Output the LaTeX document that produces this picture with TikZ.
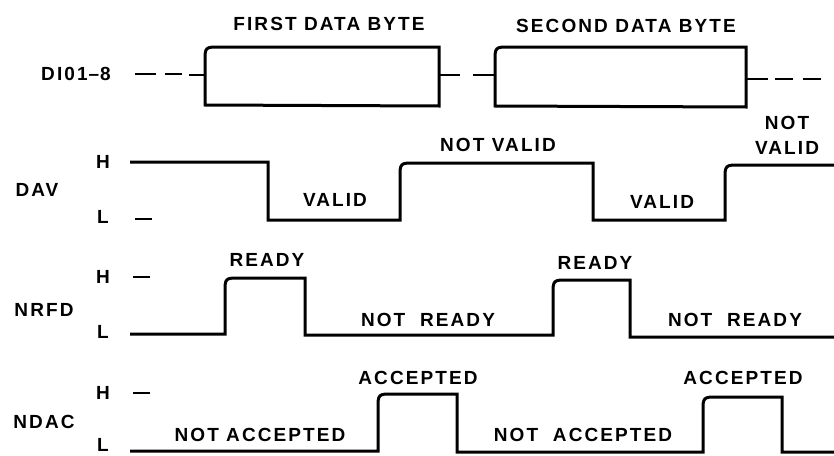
\documentclass[tikz,border=0pt]{standalone}
\usepackage{fontspec}
\setmainfont{Liberation Sans}[LetterSpace=11]
\begin{document}
\begin{tikzpicture}[x=1pt,y=-1pt,
  sig/.style={line width=3pt, line join=miter},
  tick/.style={line width=2.6pt},
  lbl/.style={font=\fontsize{19}{21}\selectfont\bfseries, inner sep=0pt, anchor=center}]
\useasboundingbox (0,0) rectangle (834,455);
% ---------- DIO1-8 ----------
\node[lbl] (dio) at (76,74) {DI01{\kern1pt}–{\kern1pt}8};
\draw[tick] (135,74) -- (156,74);
\draw[tick] (165,74) -- (182,74);
\draw[tick] (189,75) -- (205,75);
\draw[sig] (205,105) -- (205,62) .. controls (205,47) .. (220,47) -- (439,47) -- (439,106) -- cycle;
\draw[tick] (439,75) -- (460,75);
\draw[tick] (473,75) -- (495,75);
\draw[sig] (495,106) -- (495,62) .. controls (495,47) .. (510,47) -- (746,47) -- (746,107) -- cycle;
\draw[tick] (746,79) -- (768,79);
\draw[tick] (775,79) -- (793,79);
\draw[tick] (803,79) -- (821,79);
\node[lbl] (b1) at (329,24) {FIRST DATA BYTE};
\node[lbl] (b2) at (626,26) {SECOND DATA BYTE};
% ---------- DAV ----------
\node[lbl] (dav) at (37,190) {DAV};
\node[lbl] (davh) at (103,162) {H};
\node[lbl] (davl) at (103,217) {L};
\draw[tick] (135,219) -- (152,219);
\draw[sig] (130,162) -- (268,162) -- (268,220) -- (400,220) -- (400,178)
  .. controls (400,163) .. (415,163) -- (593,163) -- (593,220) -- (725,220)
  -- (725,180) .. controls (725,165) .. (740,165) -- (834,165);
\node[lbl] at (335,200) {VALID};
\node[lbl] at (498,145) {NOT VALID};
\node[lbl] at (662,202) {VALID};
\node[lbl] at (787,123) {NOT};
\node[lbl] at (787,148) {VALID};
% ---------- NRFD ----------
\node[lbl] (nrfd) at (44,310) {NRFD};
\node[lbl] (nrfdh) at (103,277) {H};
\node[lbl] (nrfdl) at (103,332) {L};
\draw[tick] (133,277) -- (150,277);
\draw[sig] (130,334) -- (225,334) -- (225,293) .. controls (225,278) .. (240,278)
  -- (305,278) -- (305,335) -- (553,335) -- (553,295) .. controls (553,280) .. (568,280)
  -- (630,280) -- (630,337) -- (834,337);
\node[lbl] at (267,260) {READY};
\node[lbl] at (428,320) {NOT\ \ READY};
\node[lbl] at (595,263) {READY};
\node[lbl] at (735,320) {NOT\ \ READY};
% ---------- NDAC ----------
\node[lbl] (ndac) at (44,422) {NDAC};
\node[lbl] (ndach) at (103,393) {H};
\node[lbl] (ndacl) at (103,445) {L};
\draw[tick] (133,393) -- (150,393);
\draw[sig] (130,451) -- (378,451) -- (378,409) .. controls (378,394) .. (393,394)
  -- (457,394) -- (457,452) -- (703,452) -- (703,412) .. controls (703,397) .. (718,397)
  -- (782,397) -- (782,452) -- (834,452);
\node[lbl] at (418,378) {ACCEPTED};
\node[lbl] at (260,435) {NOT ACCEPTED};
\node[lbl] at (583,435) {NOT\ \ ACCEPTED};
\node[lbl] at (743,378) {ACCEPTED};
\end{tikzpicture}
\end{document}
